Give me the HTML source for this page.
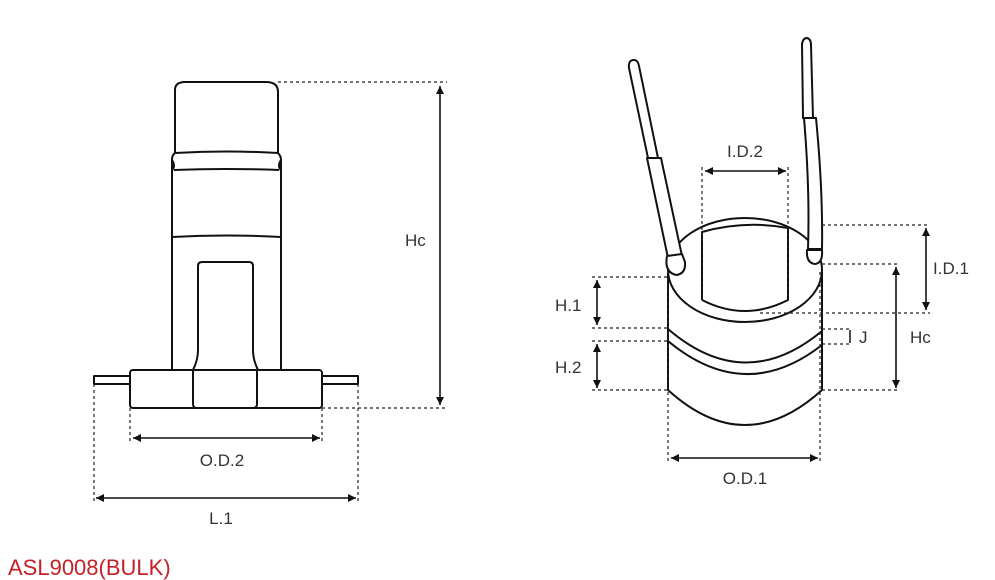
<!DOCTYPE html>
<html><head><meta charset="utf-8"><style>
html,body{margin:0;padding:0;background:#fff;width:995px;height:580px;overflow:hidden}
svg{display:block}
text{font-family:"Liberation Sans",sans-serif;fill:#333;font-size:17px}
</style></head><body>
<svg width="995" height="580" viewBox="0 0 995 580" xmlns="http://www.w3.org/2000/svg">
<defs>
<marker id="a" viewBox="0 0 10 10" refX="10" refY="5" markerWidth="10" markerHeight="8" orient="auto-start-reverse" markerUnits="userSpaceOnUse"><path d="M0,0L10,5L0,10z" fill="#111"/></marker>
</defs>
<g fill="none" stroke="#111" stroke-width="2" stroke-linejoin="round">
<!-- left part -->
<path d="M172,370 V160 Q172,155 175,153 V90 Q175,82 185,82 H266 Q278,82 278,92 V153 Q281,156 281,160 V370"/>
<path d="M175,153 Q226,150 278,153"/>
<path d="M172,160 Q176,166 172,170"/>
<path d="M281,160 Q277,166 281,170"/>
<path d="M174,170 Q226,168 279,170"/>
<path d="M172,237 Q226,234 281,237"/>
<path d="M193,370 Q198,360 198,350 V266 Q198,262 202,262 H249 Q253,262 253,266 V350 Q253,360 258,370"/>
<rect x="130" y="370" width="192" height="38" rx="3"/>
<path d="M193,370 V404 Q193,408 197,408 H253 Q257,408 257,404 V370"/>
<rect x="94" y="376" width="36" height="8"/>
<rect x="322" y="376" width="36" height="8"/>
<!-- right part -->
<ellipse cx="745" cy="270" rx="77" ry="52"/>
<path d="M702,300 V232 Q745,220 788,228 V300 Q745,322 702,300"/>
<path d="M668,272 V390 Q745,460 822,390 V272"/>
<path d="M668,329 Q745,395 822,331"/>
<path d="M668,341 Q745,405 822,345"/>
<!-- left wire -->
<path d="M648,158 L629,68 Q628,60 634,60 Q638,60 639,66 L658,158 Z" fill="#fff"/>
<path d="M647,158 L668,258 L682,256 L661,158 Z" fill="#fff"/>
<path d="M667,256 Q664,272 676,275 Q686,274 685,262 L682,254 Z" fill="#fff"/>
<!-- right wire -->
<path d="M803,118 L802,44 Q803,38 807,38 Q811,39 811,45 L813,118 Z" fill="#fff"/>
<path d="M804,118 Q810,190 808,249 L822,249 Q823,190 816,118 Z" fill="#fff"/>
<path d="M807,250 Q806,263 815,264 Q823,263 822,250 Z" fill="#fff"/>
</g>
<g fill="none" stroke="#222" stroke-width="1.2" stroke-dasharray="3,3">
<path d="M278,82 H447 M322,408 H447"/>
<path d="M130,408 V443 M322,408 V443"/>
<path d="M94,384 V503 M358,384 V503"/>
<path d="M702,167 V300 M788,167 V300"/>
<path d="M822,225 H930 M760,313 H930"/>
<path d="M822,264 H900 M822,390 H900"/>
<path d="M592,277 H668 M592,328 H668 M592,341 H668 M592,390 H668"/>
<path d="M822,329 H850 M822,344 H850"/>
<path d="M668,272 V462 M820,272 V462"/>
</g>
<g stroke="#111" stroke-width="1.6" fill="none" marker-start="url(#a)" marker-end="url(#a)">
<line x1="440" y1="86" x2="440" y2="405"/>
<line x1="133" y1="438" x2="320" y2="438"/>
<line x1="96" y1="498" x2="356" y2="498"/>
<line x1="705" y1="171" x2="786" y2="171"/>
<line x1="926" y1="228" x2="926" y2="310"/>
<line x1="896" y1="267" x2="896" y2="388"/>
<line x1="597" y1="280" x2="597" y2="325"/>
<line x1="597" y1="344" x2="597" y2="388"/>
<line x1="671" y1="458" x2="818" y2="458"/>
</g>
<path d="M850,330 V343" stroke="#111" stroke-width="1.5"/>
<text x="405" y="246">Hc</text>
<text x="222" y="466" text-anchor="middle">O.D.2</text>
<text x="221" y="524" text-anchor="middle">L.1</text>
<text x="745" y="157" text-anchor="middle">I.D.2</text>
<text x="933" y="274">I.D.1</text>
<text x="910" y="343">Hc</text>
<text x="555" y="311">H.1</text>
<text x="555" y="373">H.2</text>
<text x="859" y="343">J</text>
<text x="745" y="484" text-anchor="middle">O.D.1</text>
<text x="8" y="575" style="font-size:22px;fill:#c42026">ASL9008(BULK)</text>
</svg>
</body></html>
